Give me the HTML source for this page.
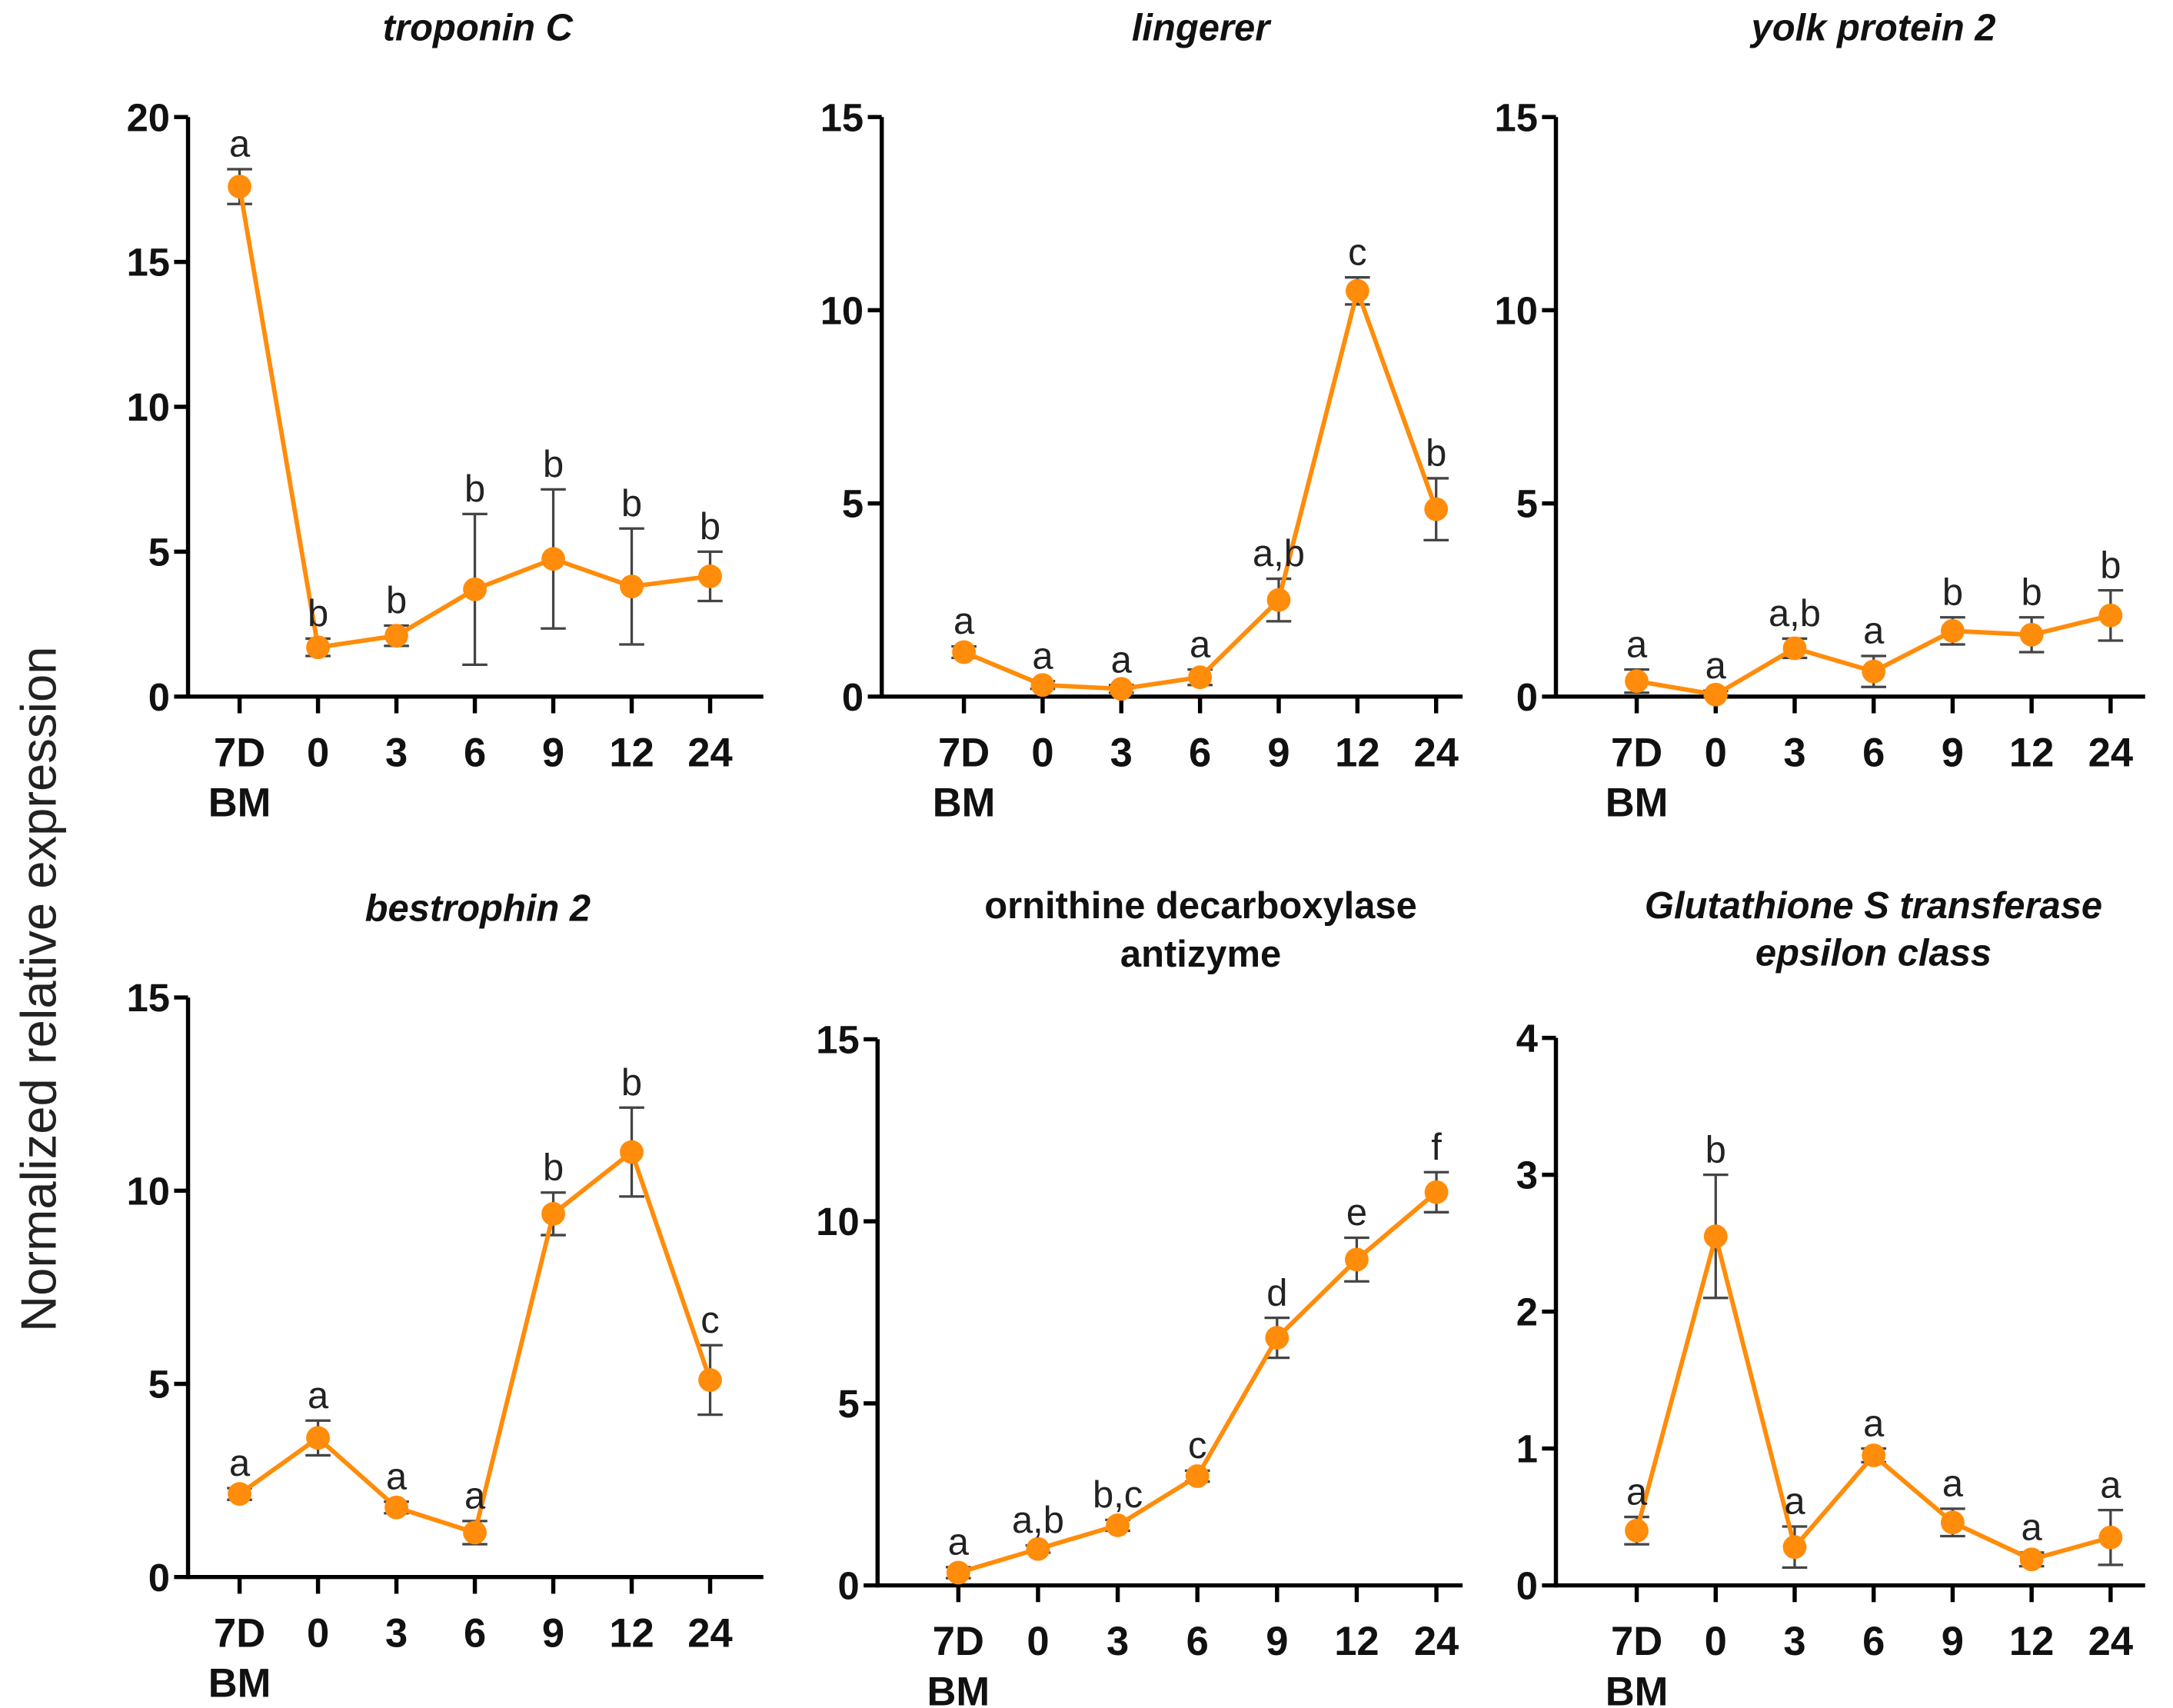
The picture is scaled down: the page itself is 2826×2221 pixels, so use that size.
<!DOCTYPE html>
<html><head><meta charset="utf-8"><style>
html,body{margin:0;padding:0;background:#fff;}
svg{display:block;}
</style></head><body>
<svg id="fig" xmlns="http://www.w3.org/2000/svg" width="2826" height="2221" viewBox="0 0 1560 1226" font-family="'Liberation Sans', sans-serif">
<rect width="1560" height="1226" fill="#fff"/>
<text transform="translate(40,710) rotate(-90)" text-anchor="middle" font-size="36" fill="#222">Normalized relative expression</text>
</svg>
<script>
const categories = ["7D","0","3","6","9","12","24"];
const troponinValues = [17.6,1.7,2.1,3.7,4.75,3.8,4.15];
const troponinErrors = [0.6,0.3,0.35,2.6,2.4,2.0,0.85];
const troponinLetters = ["a","b","b","b","b","b","b"];
const lingererValues = [1.15,0.3,0.2,0.5,2.5,10.5,4.85];
const lingererErrors = [0.15,0.1,0.1,0.2,0.55,0.35,0.8];
const lingererLetters = ["a","a","a","a","a,b","c","b"];
const yolkValues = [0.4,0.05,1.25,0.65,1.7,1.6,2.1];
const yolkErrors = [0.3,0.1,0.25,0.4,0.35,0.45,0.65];
const yolkLetters = ["a","a","a,b","a","b","b","b"];
const bestValues = [2.15,3.6,1.8,1.15,9.4,11.0,5.1];
const bestErrors = [0.15,0.45,0.15,0.3,0.55,1.15,0.9];
const bestLetters = ["a","a","a","a","b","b","c"];
const odcValues = [0.35,1.0,1.65,3.0,6.8,8.95,10.8];
const odcErrors = [0.15,0.1,0.15,0.15,0.55,0.6,0.55];
const odcLetters = ["a","a,b","b,c","c","d","e","f"];
const gstValues = [0.4,2.55,0.28,0.95,0.46,0.19,0.35];
const gstErrors = [0.1,0.45,0.15,0.05,0.1,0.05,0.2];
const gstLetters = ["a","b","a","a","a","a","a"];
const ticks20 = [0,5,10,15,20];
const ticks15 = [0,5,10,15];
const ticks4 = [0,1,2,3,4];

const NS="http://www.w3.org/2000/svg";
const svg=document.getElementById('fig');
function mk(tag,attrs,parent){const e=document.createElementNS(NS,tag);for(const k in attrs)e.setAttribute(k,attrs[k]);(parent||svg).appendChild(e);return e;}

const panels=[
 {name:"troponin",title:["troponin C"],italic:true,tx:343,ax:135,x0:172,dx:56.3,yTop:84,yBot:500,xEnd:548,max:20,ticks:ticks20,v:troponinValues,e:troponinErrors,l:troponinLetters,tY:[29]},
 {name:"lingerer",title:["lingerer"],italic:true,tx:862,ax:633,x0:692,dx:56.5,yTop:84,yBot:500,xEnd:1050,max:15,ticks:ticks15,v:lingererValues,e:lingererErrors,l:lingererLetters,tY:[29]},
 {name:"yolk-protein",title:["yolk protein 2"],italic:true,tx:1345,ax:1117,x0:1175,dx:56.7,yTop:84,yBot:500,xEnd:1540,max:15,ticks:ticks15,v:yolkValues,e:yolkErrors,l:yolkLetters,tY:[29]},
 {name:"bestrophin",title:["bestrophin 2"],italic:true,tx:343,ax:135,x0:172,dx:56.3,yTop:716,yBot:1132,xEnd:548,max:15,ticks:ticks15,v:bestValues,e:bestErrors,l:bestLetters,tY:[661]},
 {name:"odc-antizyme",title:["ornithine decarboxylase","antizyme"],italic:false,tx:862,ax:630,x0:688,dx:57.2,yTop:746,yBot:1138,xEnd:1050,max:15,ticks:ticks15,v:odcValues,e:odcErrors,l:odcLetters,tY:[659,694]},
 {name:"gst-epsilon",title:["Glutathione S transferase","epsilon class"],italic:true,tx:1345,ax:1117,x0:1175,dx:56.7,yTop:745,yBot:1138,xEnd:1540,max:4,ticks:ticks4,v:gstValues,e:gstErrors,l:gstLetters,tY:[659,693]}
];

panels.forEach(p=>{
 const g=mk('g',{});
 
 
 const yS=v=>p.yBot-(v/p.max)*(p.yBot-p.yTop);
 const xS=i=>p.x0+i*p.dx;
 p.title.forEach((t,k)=>{
  const tt=mk('text',{x:p.tx,y:p.tY[k],'text-anchor':'middle','font-size':27,'font-weight':'bold','font-style':p.italic?'italic':'normal',fill:'#111'},g);
  tt.textContent=t;
  
  
 });
 const ya=mk('line',{x1:p.ax,y1:p.yTop,x2:p.ax,y2:p.yBot+1.5,stroke:'#000','stroke-width':3},g);
 
 
 const xa=mk('line',{x1:p.ax-1.5,y1:p.yBot,x2:p.xEnd,y2:p.yBot,stroke:'#000','stroke-width':3},g);
 
 
 p.ticks.forEach(t=>{
  const y=yS(t);
  mk('line',{x1:p.ax-10,y1:y,x2:p.ax,y2:y,stroke:'#000','stroke-width':3},g);
  const tl=mk('text',{x:p.ax-13,y:y+10,'text-anchor':'end','font-size':28,'font-weight':'bold',fill:'#111'},g);
  tl.textContent=t;
  
  
 });
 categories.forEach((c,i)=>{
  const x=xS(i);
  mk('line',{x1:x,y1:p.yBot,x2:x,y2:p.yBot+12,stroke:'#000','stroke-width':3},g);
  const tl=mk('text',{x:x,y:p.yBot+50,'text-anchor':'middle','font-size':29,'font-weight':'bold',fill:'#111'},g);
  tl.textContent=c;
  
  
 });
 const bm=mk('text',{x:xS(0),y:p.yBot+86,'text-anchor':'middle','font-size':29,'font-weight':'bold',fill:'#111'},g);
 bm.textContent='BM';
 
 
 p.v.forEach((v,i)=>{
  const x=xS(i),hi=yS(v+p.e[i]),lo=yS(Math.max(0,v-p.e[i]));
  const eb=mk('path',{d:`M${x},${hi}V${lo}M${x-9},${hi}H${x+9}M${x-9},${lo}H${x+9}`,stroke:'#444','stroke-width':1.8,fill:'none'},g);
  
  
 });
 const pts=p.v.map((v,i)=>xS(i)+','+yS(v)).join(' ');
 const ln=mk('polyline',{points:pts,fill:'none',stroke:'#ff8c0a','stroke-width':3.2},g);
 
 
 p.v.forEach((v,i)=>{
  const c=mk('circle',{cx:xS(i),cy:yS(v),r:8.5,fill:'#ff8c0a'},g);
  
  
  const lt=mk('text',{x:xS(i),y:yS(v+p.e[i])-9,'text-anchor':'middle','font-size':27,fill:'#222'},g);
  lt.textContent=p.l[i];
  
  
 });
});
</script>
</body></html>
